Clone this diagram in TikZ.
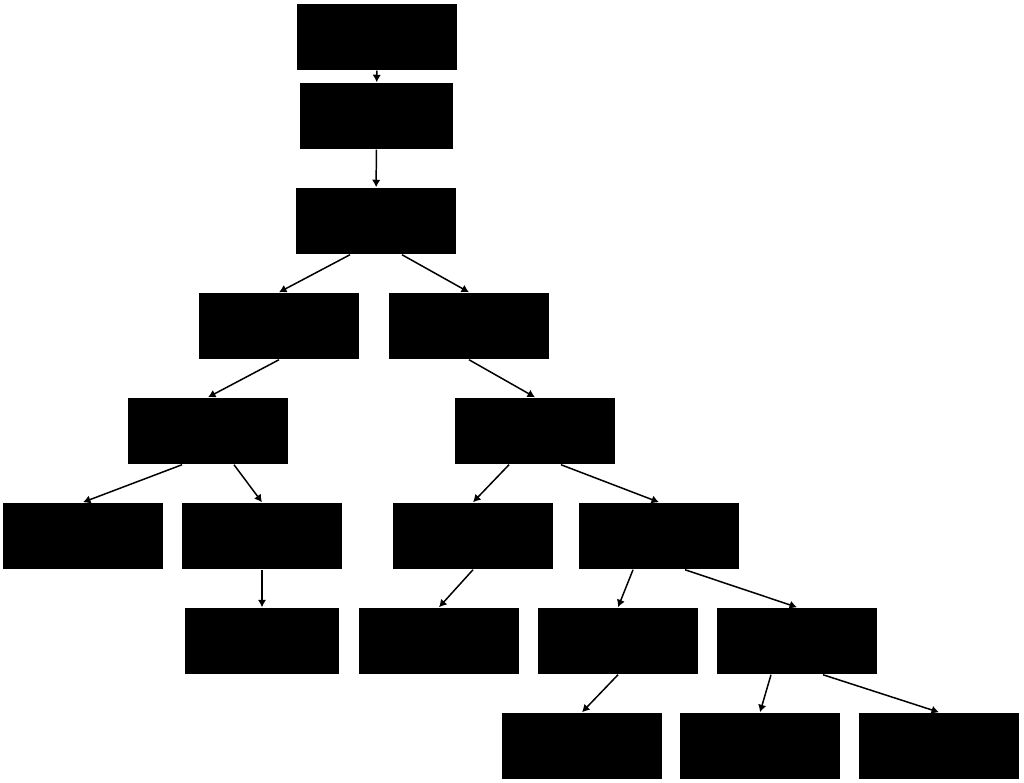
\documentclass[tikz,border=0pt]{standalone}
\usetikzlibrary{shapes,arrows.meta}

\begin{document}
\begin{tikzpicture}[x=0.02cm, y=-0.02cm, line width=0.85pt, >={Latex[length=0.15cm, width=0.17cm]}]
		\tikzstyle{block} = [rectangle, fill=black, inner sep=0pt, minimum width=3.2cm, minimum height=1.32cm]
		\tikzstyle{link} = [draw, ->]
		\def\fork{0.52cm}
		\fill[white] (0, 0) rectangle (1024, 783);

		% top chain
		\node[block] (r1-1) at (377, 37) {};
		\node[block, minimum width=3.06cm] (r2-1) at (376.5, 116) {};
		\node[block] (r3-1) at (376, 221) {};

		% middle rows
		\foreach \name / \x in {1/279, 2/469}
			\node[block] (r4-\name) at (\x, 326) {};
		\foreach \name / \x in {1/208, 2/535}
			\node[block] (r5-\name) at (\x, 431) {};
		\foreach \name / \x in {1/83, 2/262, 3/473, 4/659}
			\node[block] (r6-\name) at (\x, 536) {};

		% lower rows
		\node[block, minimum width=3.08cm] (r7-1) at (262, 641) {};
		\foreach \name / \x in {2/439, 3/618, 4/797}
			\node[block] (r7-\name) at (\x, 641) {};
		\foreach \name / \x in {1/582, 2/760, 3/939}
			\node[block] (r8-\name) at (\x, 746) {};

		% single links
		\path (r1-1) edge[link] (r2-1);
		\path (r2-1) edge[link] (r3-1);
		\path (r4-1.south) edge[link] (r5-1.north);
		\path (r4-2.south) edge[link] (r5-2.north);
		\path (r6-2.south) edge[link] (r7-1.north);
		\path (r6-3.south) edge[link] (r7-2.north);
		\path (r7-3.south) edge[link] (r8-1.north);

		% forks
		\path ([xshift=-\fork]r3-1.south) edge[link] (r4-1.north);
		\path ([xshift=\fork]r3-1.south) edge[link] (r4-2.north);
		\path ([xshift=-\fork]r5-1.south) edge[link] (r6-1.north);
		\path ([xshift=\fork]r5-1.south) edge[link] (r6-2.north);
		\path ([xshift=-\fork]r5-2.south) edge[link] (r6-3.north);
		\path ([xshift=\fork]r5-2.south) edge[link] (r6-4.north);
		\path ([xshift=-\fork]r6-4.south) edge[link] (r7-3.north);
		\path ([xshift=\fork]r6-4.south) edge[link] (r7-4.north);
		\path ([xshift=-\fork]r7-4.south) edge[link] (r8-2.north);
		\path ([xshift=\fork]r7-4.south) edge[link] (r8-3.north);
	\end{tikzpicture}
\end{document}
